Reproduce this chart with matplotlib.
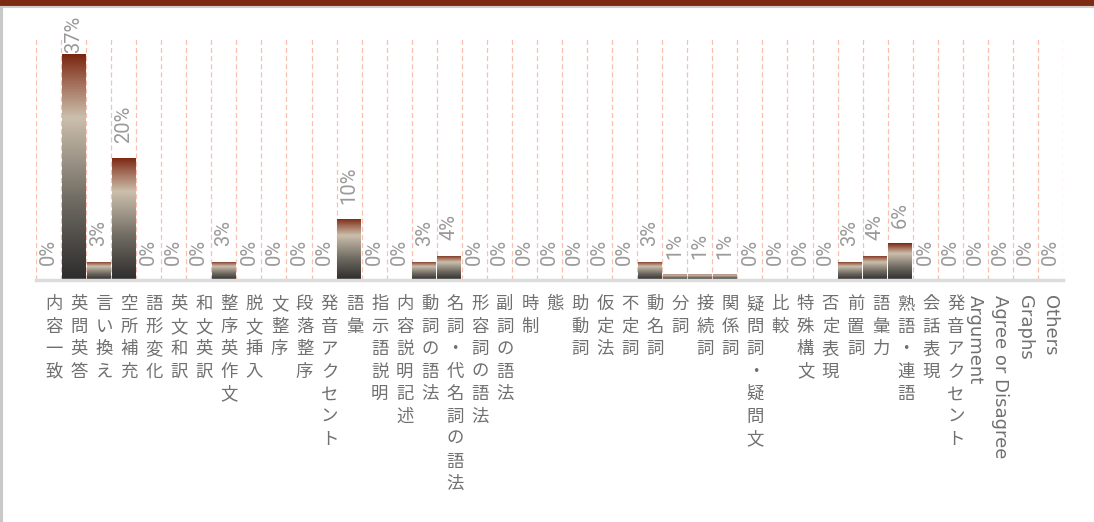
import matplotlib
matplotlib.use("Agg")
import matplotlib.pyplot as plt
import numpy as np
from matplotlib.colors import LinearSegmentedColormap
from matplotlib.patches import Rectangle

plt.rcParams['font.family'] = ['Noto Sans CJK JP', 'DejaVu Sans']

categories = [
    "内容一致", "英問英答", "言い換え", "空所補充", "語形変化", "英文和訳", "和文英訳",
    "整序英作文", "脱文挿入", "文整序", "段落整序", "発音アクセント", "語彙", "指示語説明",
    "内容説明記述", "動詞の語法", "名詞・代名詞の語法", "形容詞の語法", "副詞の語法", "時制",
    "態", "助動詞", "仮定法", "不定詞", "動名詞", "分詞", "接続詞", "関係詞", "疑問詞・疑問文",
    "比較", "特殊構文", "否定表現", "前置詞", "語彙力", "熟語・連語", "会話表現", "発音アクセント",
    "Argument", "Agree or Disagree", "Graphs", "Others",
]
values = [0, 37, 3, 20, 0, 0, 0, 3, 0, 0, 0, 0, 10, 0, 0, 3, 4, 0, 0, 0,
          0, 0, 0, 0, 3, 1, 1, 1, 0, 0, 0, 0, 3, 4, 6, 0, 0, 0, 0, 0, 0]

W, H = 1094, 522
fig = plt.figure(figsize=(W / 100, H / 100), dpi=100)
fig.patch.set_facecolor("white")

# frame: dark red band on top, grey rules
fig.patches.append(Rectangle((0, (H - 4.5) / H), 1, 4.5 / H, transform=fig.transFigure,
                             color="#7d2a12", zorder=0))
fig.add_artist(plt.Line2D([0, 1], [(H - 6.5) / H] * 2, color="#cfcfcf", lw=1.5))
fig.add_artist(plt.Line2D([1.2 / W] * 2, [0, (H - 7) / H], color="#c8c8c8", lw=2.2))

ax = fig.add_axes([36 / W, (H - 280) / H, (1063 - 36) / W, (280 - 39) / H])
n = len(categories)
x = np.arange(n)
ax.set_xlim(-0.5, n - 0.5)
ax.set_ylim(0, 39.5)
for s in ax.spines.values():
    s.set_visible(False)
ax.set_xticks([])
ax.set_yticks([])

# dashed vertical grid at category boundaries
for b in np.arange(-0.5, n + 0.5, 1):
    ax.axvline(b, color="#fbbfae", lw=0.9, ls=(0, (4, 2.5)), zorder=0)
ax.axhline(0, color="#dcdcdc", lw=2.5, zorder=3, clip_on=False)

cmap = LinearSegmentedColormap.from_list("bar", [
    (0.0, "#2c2c2c"), (0.35, "#6f6a62"), (0.72, "#cbbfac"), (0.88, "#a06a55"), (1.0, "#7a2510")])
grad = np.linspace(0, 1, 256).reshape(-1, 1)

bars = ax.bar(x, values, width=0.95, color="none", edgecolor="none", zorder=2)
for bar in bars:
    h = bar.get_height()
    if h <= 0:
        continue
    x0 = bar.get_x()
    im = ax.imshow(grad, cmap=cmap, origin="lower", aspect="auto",
                   extent=(x0, x0 + bar.get_width(), 0, h), zorder=2)
    im.set_clip_path(bar)

# value labels, kept inside the figure for the tallest bar
for xi, v in zip(x, values):
    y = min(v + 2.5, 37.2)
    ax.text(xi, y, f"{v}%", rotation=90, ha="center", va="bottom",
            fontsize=14.5, color="#9a9a9a", family="Roboto", zorder=4, clip_on=False)

# category labels under the axis
for xi, lab in zip(x, categories):
    if lab.isascii():
        ax.annotate(lab, (xi, 0), xytext=(0, -11), textcoords="offset points",
                    rotation=-90, ha="center", va="top", fontsize=13, color="#707070",
                    family="DejaVu Sans", annotation_clip=False)
    else:
        ax.annotate("\n".join(lab), (xi, 0), xytext=(4, -11), textcoords="offset points",
                    ha="center", va="top", fontsize=12.5, color="#707070",
                    linespacing=1.32, annotation_clip=False)

fig.savefig("out.png", dpi=100, facecolor="white")
